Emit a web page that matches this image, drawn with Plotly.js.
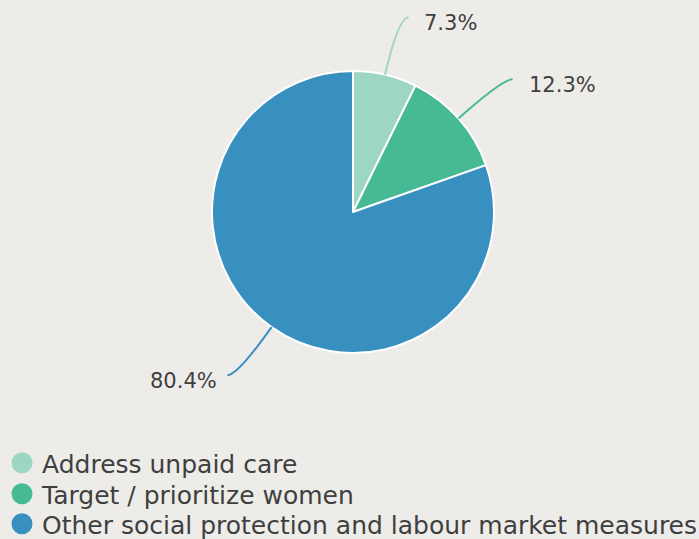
<!DOCTYPE html>
<html>
<head>
<meta charset="utf-8">
<script src="https://cdn.plot.ly/plotly-3.0.1.min.js"></script>
<style>html,body{margin:0;padding:0;background:#eeece9;}#chart{width:699px;height:539px;}</style>
</head>
<body>
<div id="chart"></div>
<script>
const categories = ["Address unpaid care", "Target / prioritize women", "Other social protection and labour market measures"];
const values = [7.3, 12.3, 80.4];
const valueLabels = ["7.3%", "12.3%", "80.4%"];
const colors = ["#9dd6c1", "#45ba95", "#3890c0"];

const W = 699, H = 539;
const FONT = "DejaVu Sans";
const TEXT = "#3f3f3f";
// pie geometry in pixels
const cx = 353, cy = 212, r = 141;
const domX = [(cx - r) / W, (cx + r) / W];
const domY = [1 - (cy + r) / H, 1 - (cy - r) / H];

const legendNames = ["legend", "legend2", "legend3"];
const legendRowY = [463, 494, 524];

const traces = [{
  type: "pie",
  labels: categories,
  values: values,
  sort: false,
  direction: "clockwise",
  rotation: 0,
  marker: {colors: colors, line: {color: "#ffffff", width: 2}},
  textinfo: "none",
  hoverinfo: "label+percent",
  showlegend: false,
  domain: {x: domX, y: domY}
}];
categories.forEach((c, i) => {
  traces.push({
    type: "scatter", mode: "markers", x: [null], y: [null], name: c,
    legend: legendNames[i],
    marker: {color: colors[i], size: 16, symbol: "circle", line: {color: colors[i], width: 5}},
    showlegend: true, hoverinfo: "skip"
  });
});

const px2x = p => p / W;
const py2y = p => 1 - p / H;
const shapes = [], annotations = [];
const total = values.reduce((a, b) => a + b, 0);
let cum = 0;
values.forEach((v, i) => {
  const mid = (cum + v / 2) / total * 2 * Math.PI;
  cum += v;
  const sx = Math.sin(mid), sy = -Math.cos(mid);
  const p0 = [cx + r * sx, cy + r * sy];
  const R2 = 200;
  const p1 = [cx + R2 * sx, cy + R2 * sy];
  const side = sx >= 0 ? 1 : -1;
  const p2 = [p1[0] + side * 10, p1[1]];
  shapes.push({
    type: "path", xref: "paper", yref: "paper",
    path: `M ${px2x(p0[0])},${py2y(p0[1])} Q ${px2x(p1[0])},${py2y(p1[1])} ${px2x(p2[0])},${py2y(p2[1])}`,
    line: {color: colors[i], width: 2}
  });
  annotations.push({
    xref: "paper", yref: "paper", x: px2x(p2[0] + side * (side > 0 ? 14 : 8)), y: py2y(p2[1] + 6),
    xanchor: side > 0 ? "left" : "right", yanchor: "middle",
    text: valueLabels[i], showarrow: false,
    font: {family: FONT, size: 21, color: TEXT}
  });
});

const layout = {
  width: W, height: H,
  margin: {l: 0, r: 0, t: 0, b: 0, autoexpand: false},
  paper_bgcolor: "#eeece9", plot_bgcolor: "#eeece9",
  xaxis: {visible: false}, yaxis: {visible: false},
  showlegend: true,
  shapes: shapes, annotations: annotations,
  font: {family: FONT, color: TEXT}
};
legendNames.forEach((n, i) => {
  layout[n] = {
    x: 2 / W, y: py2y(legendRowY[i]), xanchor: "left", yanchor: "middle",
    bgcolor: "rgba(0,0,0,0)", borderwidth: 0,
    font: {family: FONT, size: 25, color: TEXT},
    itemsizing: "trace"
  };
});
Plotly.newPlot("chart", traces, layout, {displayModeBar: false, staticPlot: true});
</script>
</body>
</html>
